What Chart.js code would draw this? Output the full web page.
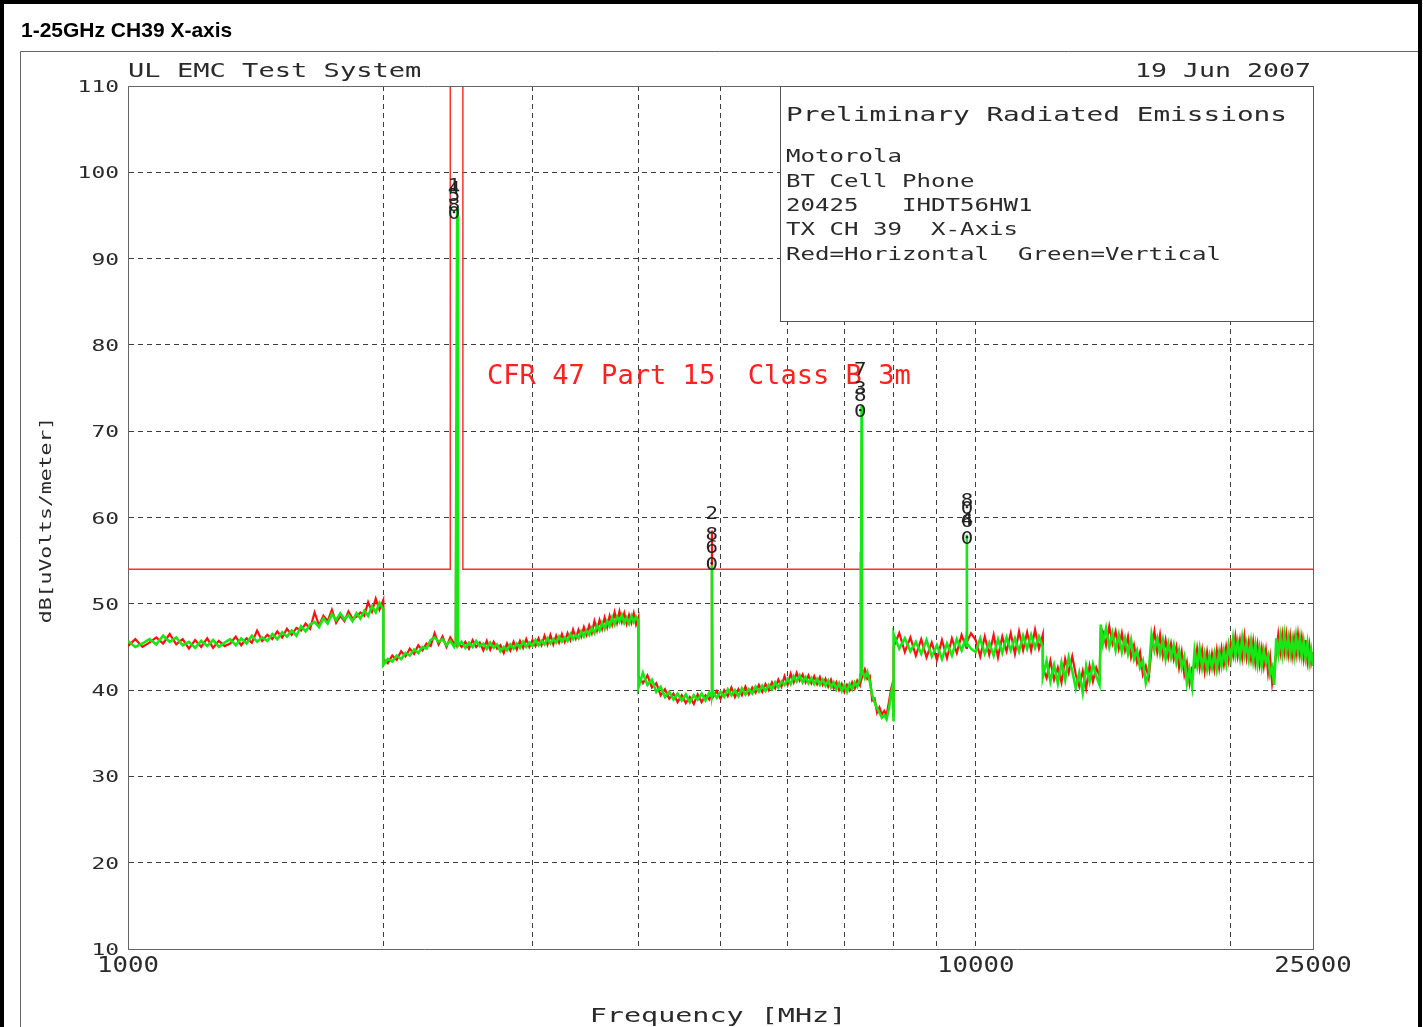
<!DOCTYPE html>
<html>
<head>
<meta charset="utf-8">
<script src="https://cdn.jsdelivr.net/npm/chart.js@4.4.0/dist/chart.umd.min.js"></script>
<style>
html,body{margin:0;padding:0;background:#fff;}
#wrap{width:1423px;height:1027px;position:relative;overflow:hidden;}
canvas{display:block;}
</style>
</head>
<body>
<div id="wrap"><canvas id="c" width="1423" height="1027"></canvas></div>
<script>
// ---------- DATA ----------
const titleText = "1-25GHz CH39 X-axis";
const headerLeft = "UL EMC Test System";
const headerRight = "19 Jun 2007";
const boxTitle = "Preliminary Radiated Emissions";
const boxLines = ["Motorola", "BT Cell Phone", "20425   IHDT56HW1", "TX CH 39  X-Axis", "Red=Horizontal  Green=Vertical"];
const limitLabel = "CFR 47 Part 15  Class B 3m";
const xTitle = "Frequency [MHz]";
const yTitle = "dB[uVolts/meter]";

const yTicks = [10, 20, 30, 40, 50, 60, 70, 80, 90, 100, 110];
const xLabelFreqs = [1000, 10000, 25000];
const gridFreqs = [2000, 3000, 4000, 5000, 6000, 7000, 8000, 9000, 10000, 20000];

// limit line (restricted band notch 2400-2483.5 MHz)
const limitFreq = [1000, 2400, 2400, 2483.5, 2483.5, 25000];
const limitDb   = [54, 54, 112, 112, 54, 54];

// Segment 1-2 GHz
const freqA  = [1000,1020,1040,1060,1080,1100,1120,1140,1160,1180,1200,1220,1240,1260,1280,1300,1320,1340,1360,1380,
  1400,1420,1440,1460,1480,1500,1520,1540,1560,1580,1600,1620,1640,1660,1680,1700,1720,1740,1760,1780,
  1800,1820,1840,1860,1880,1900,1920,1940,1960,1980,2000];
const vertA  = [45.7,45.0,45.4,45.9,45.3,46.3,45.6,46.1,45.2,45.6,44.9,45.7,45.1,45.8,45.0,45.5,45.9,45.2,46.0,45.4,
  46.3,45.6,46.1,45.7,46.5,45.9,46.7,46.2,46.9,46.3,47.4,46.8,47.6,47.9,47.3,48.3,47.7,48.8,48.1,48.9,
  48.2,48.7,48.0,48.9,48.3,49.2,48.6,49.7,49.0,50.1,49.4];
const horizA = [45.1,45.9,45.0,45.5,46.1,45.4,46.5,45.3,45.9,44.8,45.8,45.0,46.0,44.9,45.7,45.1,45.4,46.2,45.2,46.0,
  45.5,46.9,45.7,46.4,45.9,46.8,46.1,47.1,46.4,47.2,46.9,47.7,47.1,49.0,47.5,48.6,48.0,49.3,47.8,48.6,
  48.0,49.1,48.3,48.5,49.0,48.6,50.2,49.1,50.6,49.3,50.4];

// Segment 2-4 GHz
const freqB  = [2001,2025,2050,2075,2100,2125,2150,2175,2200,2225,2250,2275,2300,2325,2350,2375,2400,2425,
  2436,2440,2445,2450,
  2475,2500,2525,2550,2575,2600,2625,2650,2675,2700,2725,2750,2775,2800,2825,2850,2875,2900,2925,2950,2975,3000,
  3025,3050,3075,3100,3125,3150,3175,3200,3225,3250,3275,3300,3325,3350,3375,3400,3425,3450,3475,3500,
  3525,3550,3575,3600,3625,3650,3675,3700,3725,3750,3775,3800,3825,3850,3875,3900,3925,3950,3975,4000];
const vertB  = [42.9,43.6,43.3,44.0,43.6,44.3,44.0,44.7,44.3,45.0,44.8,45.8,46.1,45.6,45.9,45.2,45.7,45.0,
  45.5,70.0,95.8,45.1,
  45.6,44.9,45.5,45.0,45.7,45.1,45.4,44.8,45.5,44.9,45.3,44.5,45.0,44.6,45.3,44.8,45.4,44.9,45.6,45.0,45.5,45.1,
  45.8,45.2,45.7,45.3,46.0,45.4,45.9,45.5,46.2,45.6,46.1,45.7,46.5,45.9,46.4,46.0,46.8,46.2,46.9,46.4,
  47.2,46.6,47.5,46.9,47.8,47.1,48.0,47.4,48.4,47.6,48.5,47.9,48.7,47.8,48.4,47.7,48.6,47.9,48.5,48.0];
const horizB = [43.6,43.1,44.0,43.5,44.5,43.9,44.8,44.2,45.2,44.6,45.4,45.1,46.6,45.3,46.2,45.0,46.1,45.4,
  45.2,70.7,45.6,45.6,
  45.0,45.6,44.8,45.8,45.0,45.5,44.6,45.7,44.7,45.6,44.8,45.2,44.3,45.4,44.6,45.6,44.7,45.7,44.9,45.9,45.0,45.8,
  45.1,46.0,45.2,46.3,45.3,46.4,45.3,46.3,45.5,46.5,45.6,46.6,45.8,47.0,46.0,47.0,46.2,47.3,46.4,47.5,
  46.6,48.0,46.9,48.1,47.1,48.4,47.3,48.6,47.6,49.0,47.8,49.1,47.9,48.9,47.7,48.7,47.8,48.9,47.6,48.4];

// Segment 4-8 GHz
const freqC  = [4001,4050,4100,4150,4200,4250,4300,4350,4400,4450,4500,4550,4600,4650,4700,4750,4800,4850,
  4880,4885,4890,4900,
  4950,5000,5050,5100,5150,5200,5250,5300,5350,5400,5450,5500,5550,5600,5650,5700,5750,5800,5850,5900,5950,6000,
  6050,6100,6150,6200,6250,6300,6350,6400,6450,6500,6550,6600,6650,6700,6750,6800,6850,6900,6950,7000,
  7050,7100,7150,7200,7250,7300,
  7310,7315,7320,7335,7340,
  7350,7400,7450,7500,7550,7600,7650,7700,7750,7800,7850,7900,7950,7980,8000];
const vertC  = [40.3,42.0,40.6,41.2,39.8,40.4,39.2,39.8,38.9,39.6,38.8,39.5,38.6,39.4,38.9,39.6,38.8,39.7,
  39.3,54.5,39.4,39.8,
  39.1,39.8,39.2,40.1,39.4,40.0,39.3,40.2,39.5,40.1,39.6,40.4,39.8,40.5,39.9,40.6,40.1,40.9,40.3,41.0,40.6,41.3,
  40.7,41.6,41.0,41.7,40.9,41.5,40.8,41.4,40.7,41.3,40.6,41.2,40.5,41.1,40.3,40.9,40.1,40.8,39.9,40.6,
  39.8,40.7,40.1,40.9,40.4,41.2,
  41.5,56.0,41.6,73.0,41.8,
  42.2,41.4,42.1,41.0,39.4,38.6,37.9,37.4,36.8,37.1,36.6,37.8,39.6,40.4,36.5];
const horizC = [41.6,40.8,41.7,40.3,40.8,39.4,40.1,39.0,39.6,38.6,39.4,38.5,39.2,38.4,39.5,38.6,39.4,38.9,
  39.6,58.5,39.7,39.2,
  39.9,39.0,40.0,39.3,40.3,39.2,40.1,39.4,40.4,39.5,40.3,39.7,40.6,39.8,40.7,40.0,40.9,40.2,41.2,40.4,41.6,40.6,
  41.9,40.9,42.0,41.1,41.8,40.9,41.7,40.8,41.6,40.7,41.5,40.6,41.3,40.4,41.2,40.2,40.9,40.0,40.7,39.8,
  40.6,40.0,40.9,40.2,41.1,40.6,
  41.9,41.2,41.8,42.5,41.4,
  41.6,42.4,41.3,41.6,38.8,39.0,37.4,38.0,37.2,37.6,37.1,38.6,40.2,40.8,37.0];

// Segment 8-12 GHz
const freqD  = [8001,8125,8250,8375,8500,8625,8750,8875,9000,9125,9250,9375,9500,9625,9750,9762,9765,9768,9875,10000,10125,10250,10375,10500,10625,10750,10875,11000,11125,11250,11375,11500,11625,11750,11875,12000];
const vertD  = [46.5,44.8,46.0,44.5,45.6,44.2,45.8,43.9,45.2,43.6,45.4,44.0,45.9,44.6,46.2,45.0,58.0,45.4,44.8,44.4,46.0,44.2,45.5,44.0,45.9,44.3,46.1,44.6,46.0,44.5,46.3,44.8,46.4,44.9,46.2,45.0];
const horizD = [45.0,46.6,44.4,46.1,44.0,45.9,43.8,45.5,43.5,45.8,43.7,46.0,44.3,46.4,44.9,46.3,46.8,45.6,46.6,45.8,43.9,46.2,44.1,46.4,43.8,46.2,44.5,46.6,44.2,46.8,44.6,46.7,44.6,47.0,44.8,46.4];

// Segment 12-25 GHz
const freqE  = [12001,
  12125,12250,12375,12500,12625,12750,12875,13000,
  13125,13250,13375,13500,13625,13750,13875,14000,
  14050,
  14125,14250,14375,14500,14625,14750,14875,15000,
  15125,15250,15375,15500,15625,15750,15875,16000,
  16125,16250,16375,16500,16625,16750,16875,17000,
  17125,17250,17375,17500,17625,17750,17875,18000,
  18125,18250,18375,18500,18625,18750,18875,19000,
  19125,19250,19375,19500,19625,19750,19875,20000,
  20125,20250,20375,20500,20625,20750,20875,21000,
  21125,21250,21375,21500,21625,21750,21875,22000,
  22125,22250,22375,22500,22625,22750,22875,23000,
  23125,23250,23375,23500,23625,23750,23875,24000,
  24125,24250,24375,24500,24625,24750,24875,25000];
const vertE  = [41.5,
  43.4,41.0,42.9,40.8,43.2,41.2,43.8,42.2,
  40.2,42.0,39.7,42.8,41.0,43.0,41.6,40.6,
  47.6,
  45.4,47.2,45.0,46.6,44.6,46.4,44.4,46.0,
  44.2,45.8,43.6,44.6,42.6,43.4,40.8,42.0,
  46.4,44.6,46.0,44.2,45.8,43.6,45.4,43.8,
  45.2,43.2,44.6,42.6,43.8,40.8,42.4,40.4,
  44.6,42.8,44.8,42.6,44.2,42.4,44.0,42.6,
  44.2,42.4,44.4,42.8,44.6,43.0,45.2,43.6,
  46.0,44.0,45.6,43.8,46.0,44.0,45.4,43.6,
  45.6,43.4,45.2,43.0,44.8,42.8,44.6,43.2,
  44.0,41.8,42.6,40.6,46.0,44.2,46.2,44.2,
  46.4,44.4,46.0,44.2,45.8,44.0,46.2,44.4,
  46.0,44.0,45.6,43.8,45.4,43.2,44.6,42.8];
const horizE = [42.6,
  41.4,43.4,41.2,42.6,40.9,43.6,42.0,43.9,
  41.8,40.4,42.2,40.2,42.8,41.0,42.6,41.6,
  47.2,
  46.8,45.2,47.4,45.4,46.8,44.8,46.6,44.6,
  46.2,43.8,45.2,43.2,44.4,41.8,42.8,41.4,
  44.8,46.8,44.4,46.4,44.0,45.8,43.8,45.4,
  43.6,45.0,42.6,44.4,41.8,43.2,40.8,42.6,
  42.6,44.8,42.6,44.6,42.2,44.4,42.4,44.2,
  42.4,44.6,42.6,44.8,43.0,45.0,43.4,45.4,
  44.0,46.2,44.0,45.8,43.8,46.2,43.8,45.6,
  43.6,45.6,43.2,45.2,43.0,44.8,42.8,44.6,
  42.0,43.8,40.8,42.4,44.2,46.4,44.4,46.4,
  44.4,46.4,44.2,46.2,44.0,46.0,44.2,46.4,
  44.2,46.0,43.8,45.8,43.4,45.2,43.2,44.4];

// peak markers (stacked digit labels)
const markerFreq = [2425,2425,2425,2425,2425, 4882,4882,4882,4882, 7310,7310,7310,7310, 9766,9766,9766,9766,9766];
const markerDb   = [98.5,98.2,97.4,96.2,95.3, 60.5,58.1,56.6,54.6, 77.2,75.0,74.2,72.3, 62.0,61.1,59.8,59.6,57.6];
const markerText = ["1","4","5","8","0", "2","8","6","0", "7","3","8","0", "8","0","4","6","0"];

const freqMHz = [].concat(freqA, freqB, freqC, freqD, freqE);
const vertDb  = [].concat(vertA, vertB, vertC, vertD, vertE);
const horizDb = [].concat(horizA, horizB, horizC, horizD, horizE);

const pts = (fs, vs) => fs.map((f, i) => ({x: f, y: vs[i]}));

// ---------- DRAW HELPERS ----------
const MONO = '"DejaVu Sans Mono", "Liberation Mono", monospace';
const INK = '#2a2a2a';

// draws monospace text horizontally stretched so that each character advances `pitch` px
function drawText(ctx, s, x, y, size, color, pitch, align) {
  ctx.save();
  ctx.font = size + 'px ' + MONO;
  ctx.fillStyle = color;
  ctx.textAlign = 'left';
  ctx.textBaseline = 'alphabetic';
  const natural = ctx.measureText(s).width;
  const adv = natural / s.length;
  const sx = pitch ? pitch / adv : 1;
  const w = natural * sx;
  let x0 = x;
  if (align === 'right') x0 = x - w;
  else if (align === 'center') x0 = x - w / 2;
  ctx.translate(x0, y);
  ctx.scale(sx, 1);
  ctx.fillText(s, 0, 0);
  ctx.restore();
}

const overlay = {
  id: 'overlay',
  beforeDraw(chart) {
    const ctx = chart.ctx;
    ctx.save();
    ctx.fillStyle = '#ffffff';
    ctx.fillRect(0, 0, chart.width, chart.height);
    ctx.restore();
  },
  afterDraw(chart) {
    const ctx = chart.ctx;
    const a = chart.chartArea;
    const xs = chart.scales.x, ys = chart.scales.y;

    // plot frame top/right
    ctx.save();
    ctx.strokeStyle = '#666';
    ctx.lineWidth = 1;
    ctx.beginPath();
    ctx.moveTo(a.left, a.top + 0.5); ctx.lineTo(a.right + 0.5, a.top + 0.5);
    ctx.lineTo(a.right + 0.5, a.bottom);
    ctx.stroke();
    ctx.restore();

    // info box
    ctx.save();
    ctx.fillStyle = '#fff';
    ctx.fillRect(780, a.top + 0.5, a.right - 780, 235);
    ctx.strokeStyle = '#555';
    ctx.lineWidth = 1;
    ctx.strokeRect(780.5, a.top + 0.5, a.right - 780, 235);
    ctx.restore();

    drawText(ctx, boxTitle, 786, 121, 20, INK, 16.7, 'left');
    const lineY = [162, 187, 211, 235, 260];
    boxLines.forEach((s, i) => drawText(ctx, s, 786, lineY[i], 18, INK, 14.5, 'left'));

    // header texts
    drawText(ctx, headerLeft, 128, 77, 20, INK, 16.3, 'left');
    drawText(ctx, headerRight, 1311, 77, 20, INK, 16.0, 'right');

    // limit label
    drawText(ctx, limitLabel, 487, 384, 27, '#ff2020', 16.3, 'left');

    // markers
    markerText.forEach((t, i) => {
      const px = xs.getPixelForValue(markerFreq[i]);
      const py = ys.getPixelForValue(markerDb[i]);
      drawText(ctx, t, px, py + 6, 17, '#222', 12.5, 'center');
    });

    // y tick labels
    yTicks.forEach(v => {
      drawText(ctx, String(v), 119, ys.getPixelForValue(v) + 6, 16, INK, 13.8, 'right');
    });
    // x tick labels
    xLabelFreqs.forEach(f => {
      drawText(ctx, String(f), xs.getPixelForValue(f), 972, 22, INK, 15.5, 'center');
    });
    // axis titles
    drawText(ctx, xTitle, 718, 1022, 19, INK, 17.1, 'center');
    ctx.save();
    ctx.translate(51, 520);
    ctx.rotate(-Math.PI / 2);
    drawText(ctx, yTitle, 0, 0, 16, INK, 12.9, 'center');
    ctx.restore();

    // page title
    ctx.save();
    ctx.font = 'bold 21px "Liberation Sans", Arial, sans-serif';
    ctx.fillStyle = '#000';
    ctx.textBaseline = 'alphabetic';
    ctx.fillText(titleText, 21, 37);
    ctx.restore();

    // inner frame lines
    ctx.save();
    ctx.strokeStyle = '#666';
    ctx.lineWidth = 1;
    ctx.beginPath();
    ctx.moveTo(20.5, chart.height); ctx.lineTo(20.5, 51.5); ctx.lineTo(1418, 51.5);
    ctx.stroke();
    // outer thick border
    ctx.strokeStyle = '#000';
    ctx.lineWidth = 4;
    ctx.beginPath();
    ctx.moveTo(2, chart.height); ctx.lineTo(2, 2); ctx.lineTo(1420, 2); ctx.lineTo(1420, chart.height);
    ctx.stroke();
    ctx.restore();
  }
};

const gridStyle = {color: '#3c3c3c', lineWidth: 1, drawTicks: false};
const borderStyle = {display: true, color: '#666', width: 1, dash: [5, 4]};

new Chart(document.getElementById('c'), {
  type: 'line',
  data: {
    datasets: [
      {label: 'Vertical', data: pts(freqMHz, vertDb), borderColor: '#16e816', borderWidth: 2.6, pointRadius: 0, tension: 0, fill: false},
      {label: 'Horizontal', data: pts(freqMHz, horizDb), borderColor: '#ff1010', borderWidth: 2.2, pointRadius: 0, tension: 0, fill: false},
      {label: 'Limit', data: pts(limitFreq, limitDb), borderColor: '#ff3030', borderWidth: 1.5, pointRadius: 0, tension: 0, fill: false}
    ]
  },
  options: {
    responsive: false,
    animation: false,
    events: [],
    layout: {padding: {left: 128, top: 86, right: 110, bottom: 78}},
    plugins: {legend: {display: false}, tooltip: {enabled: false}, title: {display: false}},
    scales: {
      x: {
        type: 'logarithmic', min: 1000, max: 25000,
        ticks: {display: false},
        grid: gridStyle,
        border: borderStyle,
        afterBuildTicks: s => { s.ticks = gridFreqs.map(v => ({value: v})); },
        afterFit: s => { s.height = 0; }
      },
      y: {
        type: 'linear', min: 10, max: 110,
        ticks: {display: false, stepSize: 10},
        grid: gridStyle,
        border: borderStyle,
        afterBuildTicks: s => { s.ticks = yTicks.slice(1, -1).map(v => ({value: v})); },
        afterFit: s => { s.width = 0; }
      }
    }
  },
  plugins: [overlay]
});
</script>
</body>
</html>
